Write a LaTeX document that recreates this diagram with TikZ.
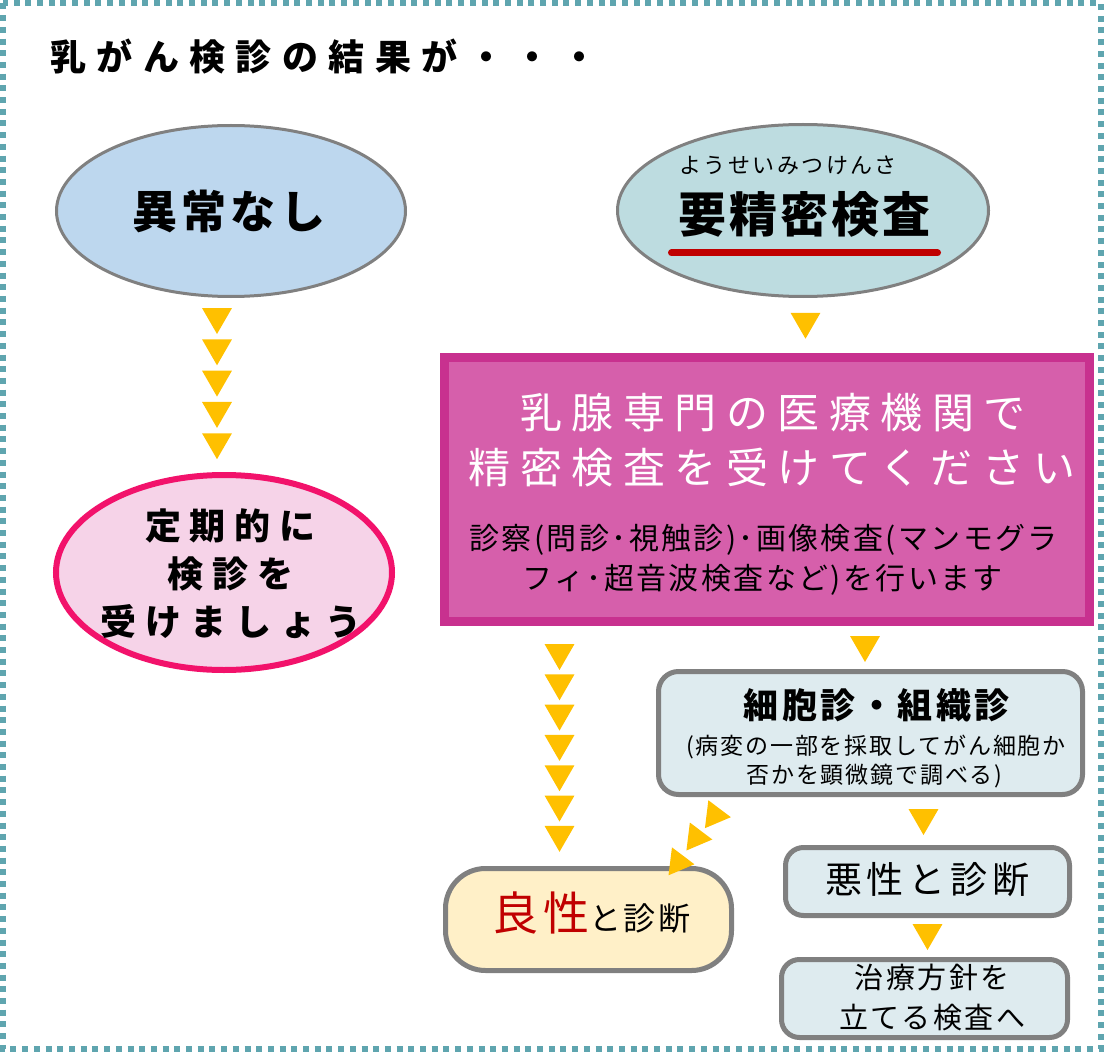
\documentclass[tikz,border=0pt]{standalone}
\usepackage{fontspec}
\setmainfont{Noto Sans CJK JP}
\usetikzlibrary{shapes.geometric}
\definecolor{bordT}{HTML}{5FA5AF}
\definecolor{yel}{HTML}{FFC000}
\definecolor{grayL}{HTML}{808080}
\definecolor{eOneF}{HTML}{BDD7EE}
\definecolor{eTwoF}{HTML}{BDDCE0}
\definecolor{pinkF}{HTML}{F6D3E8}
\definecolor{pinkD}{HTML}{F2126B}
\definecolor{magD}{HTML}{C8318F}
\definecolor{magF}{HTML}{D65FAB}
\definecolor{boxF}{HTML}{DEEBEF}
\definecolor{creamF}{HTML}{FFF0C8}
\definecolor{redT}{HTML}{C00000}
\newcommand\fsz[1]{\fontsize{#1}{#1}\selectfont}
\newcommand\LS[1]{\addfontfeature{LetterSpace=#1}}
\begin{document}
\begin{tikzpicture}[x=1pt,y=-1pt,
  tri/.style={regular polygon, regular polygon sides=3, fill=yel, draw=none, inner sep=0pt, minimum size=34.6pt},
  dtri/.style={tri, shape border rotate=180},
  stri/.style={tri, minimum size=32.5pt, rotate=-97},
  ell/.style={ellipse, inner sep=0pt},
  rbox/.style={draw=grayL, line width=5pt, fill=boxF, rounded corners=20pt, inner sep=0pt},
  txt/.style={inner sep=0pt, align=center}]
\useasboundingbox (0,0) rectangle (1116,1059);
% frame
\draw[bordT, line width=6pt, dash pattern=on 6pt off 5.7pt] (3,3.5) rectangle (1101,1049);
% title
\node[txt, anchor=west] (title) at (50,57) {\bfseries\fsz{36}\LS{29}乳がん検診の結果が・・・};
% ellipses
\node[ell, draw=grayL, line width=3pt, fill=eOneF, minimum width=349pt, minimum height=171pt] (e1) at (231,211) {};
\node[txt] (e1t) at (227,211) {\bfseries\fsz{45}\LS{9}異常なし\kern-4pt};
\node[ell, draw=grayL, line width=3pt, fill=eTwoF, minimum width=371pt, minimum height=172pt] (e2) at (803,210.5) {};
\node[txt] (e2r) at (787,165) {\fsz{22}\LS{11}ようせいみつけんさ\kern-2.4pt};
\node[txt] (e2t) at (803,214) {\bfseries\fsz{48}\LS{6}要精密検査\kern-2.9pt};
\coordinate (ulA) at (671.5,253);
\coordinate (ulB) at (937.5,253);
\draw[redT, line width=7pt, line cap=round] (ulA) -- (ulB);
\node[ell, draw=pinkD, line width=6pt, fill=pinkF, minimum width=336pt, minimum height=195pt] (e3) at (224,572.5) {};
\node[txt, font={\bfseries\fontsize{36}{48}\selectfont\LS{25}}] (e3t) at (226,573.5) {定期的に\kern-9pt\\検診を\kern-9pt\\受けましょう\kern-9pt};
% magenta box
\node[draw=magD, line width=9pt, fill=magF, minimum width=645pt, minimum height=264pt, inner sep=0pt] (mag) at (767,489.5) {};
\node[txt, text=white] (m1) at (768.5,413) {\fsz{42}\LS{22.6}乳腺専門の医療機関で\kern-9.5pt};
\node[txt, text=white] (m2) at (767.5,468) {\fsz{42}\LS{22.6}精密検査を受けてください\kern-9.5pt};
\node[txt] (m3) at (762.5,540) {\fsz{30}\LS{8}診察(問診･視触診)･画像検査(マンモグラ\kern-2.4pt};
\node[txt] (m4) at (761.5,580) {\fsz{30}\LS{8}フィ･超音波検査など)を行います\kern-2.4pt};
% right boxes
\node[rbox, minimum width=424pt, minimum height=123pt] (b3) at (870.5,733) {};
\node[txt] (b3a) at (875,705) {\bfseries\fsz{35}\LS{10}細胞診・組織診\kern-3.5pt};
\node[txt] (b3b) at (875,747) {\fsz{23}\LS{8}(病変の一部を採取してがん細胞か\kern-1.8pt};
\node[txt] (b3c) at (873.5,776) {\fsz{23}\LS{8}否かを顕微鏡で調べる)\kern-1.8pt};
\node[rbox, rounded corners=18pt, minimum width=284pt, minimum height=68pt] (b4) at (927.5,881.5) {};
\node[txt] (b4t) at (925,880) {\fsz{37}\LS{13.5}悪性と診断\kern-5pt};
\node[rbox, rounded corners=18pt, minimum width=286pt, minimum height=78pt] (b5) at (924.5,998.5) {};
\node[txt, font={\fontsize{29}{40}\selectfont\LS{8.6}}] (b5t) at (931,997) {治療方針を\kern-2.5pt\\立てる検査へ\kern-2.5pt};
\node[rbox, fill=creamF, rounded corners=40pt, minimum width=286pt, minimum height=102pt] (b6) at (588.5,919.5) {};
\node[txt] (b6t) at (590,913) {{\color{redT}\fsz{46}\LS{11}良性}{\fsz{32}\LS{9}と診断\kern-2.9pt}};
% yellow triangle connectors
\foreach \i in {0,...,4} \node[dtri] (L\i) at (217,316.7+31.3*\i) {};
\node[dtri] (R0) at (805.5,321.4) {};
\node[dtri] (R1) at (865,644.7) {};
\foreach \i in {0,...,6} \node[dtri] (M\i) at (559.5,652.7+30.3*\i) {};
\node[dtri] (R2) at (923.5,817.7) {};
\node[dtri] (R3) at (927.5,932.7) {};
\node[stri] (S1) at (714.7,815.2) {};
\node[stri] (S2) at (696.2,837.5) {};
\node[stri] (S3) at (678.3,862.3) {};
\end{tikzpicture}
\end{document}
